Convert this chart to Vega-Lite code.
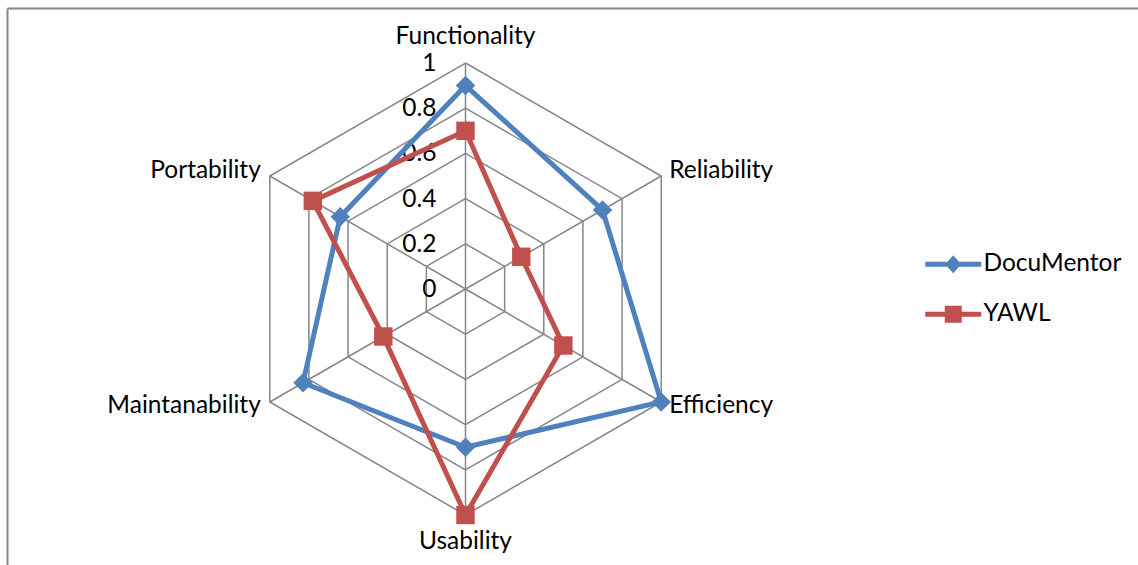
{
  "$schema": "https://vega.github.io/schema/vega-lite/v6.json",
  "width": 1131,
  "height": 557,
  "autosize": {"type": "none"},
  "padding": {"left": 7, "top": 8, "right": 0, "bottom": 0},
  "background": "white",
  "config": {"view": {"stroke": null}, "font": "Lato", "text": {"font": "Lato", "fontSize": 24.5, "color": "#000000"}},
  "datasets": {
    "axes": [
      {"axis": "Functionality", "k": 0},
      {"axis": "Reliability", "k": 1},
      {"axis": "Efficiency", "k": 2},
      {"axis": "Usability", "k": 3},
      {"axis": "Maintanability", "k": 4},
      {"axis": "Portability", "k": 5}
    ],
    "grid": [
      {"level": 0.2, "k": [0, 1, 2, 3, 4, 5]},
      {"level": 0.4, "k": [0, 1, 2, 3, 4, 5]},
      {"level": 0.6, "k": [0, 1, 2, 3, 4, 5]},
      {"level": 0.8, "k": [0, 1, 2, 3, 4, 5]},
      {"level": 1.0, "k": [0, 1, 2, 3, 4, 5]}
    ],
    "ticks": [
      {"v": 0, "label": "0"},
      {"v": 0.2, "label": "0.2"},
      {"v": 0.4, "label": "0.4"},
      {"v": 0.6, "label": "0.6"},
      {"v": 0.8, "label": "0.8"},
      {"v": 1.0, "label": "1"}
    ],
    "scores": [
      {"series": "DocuMentor", "axis": "Functionality", "k": 0, "value": 0.9},
      {"series": "DocuMentor", "axis": "Reliability", "k": 1, "value": 0.7},
      {"series": "DocuMentor", "axis": "Efficiency", "k": 2, "value": 1.0},
      {"series": "DocuMentor", "axis": "Usability", "k": 3, "value": 0.7},
      {"series": "DocuMentor", "axis": "Maintanability", "k": 4, "value": 0.83},
      {"series": "DocuMentor", "axis": "Portability", "k": 5, "value": 0.64},
      {"series": "YAWL", "axis": "Functionality", "k": 0, "value": 0.7},
      {"series": "YAWL", "axis": "Reliability", "k": 1, "value": 0.285},
      {"series": "YAWL", "axis": "Efficiency", "k": 2, "value": 0.5},
      {"series": "YAWL", "axis": "Usability", "k": 3, "value": 1.0},
      {"series": "YAWL", "axis": "Maintanability", "k": 4, "value": 0.42},
      {"series": "YAWL", "axis": "Portability", "k": 5, "value": 0.78}
    ]
  },
  "layer": [
    {
      "data": {"name": "grid"},
      "transform": [
        {"flatten": ["k"]},
        {"calculate": "datum.k * PI / 3", "as": "a"},
        {"calculate": "datum.level * sin(datum.a)", "as": "gx"},
        {"calculate": "datum.level * cos(datum.a)", "as": "gy"}
      ],
      "mark": {"type": "line", "interpolate": "linear-closed", "color": "#868686", "strokeWidth": 1.5},
      "encoding": {
        "x": {"field": "gx", "type": "quantitative",
              "scale": {"domain": [-2.0288, 2.9757], "nice": false, "zero": false},
              "axis": {"orient": "top", "domainColor": "#888888", "domainWidth": 2, "ticks": false, "labels": false, "grid": false, "title": null}},
        "y": {"field": "gy", "type": "quantitative",
              "scale": {"domain": [-1.2212, 1.2434], "nice": false, "zero": false},
              "axis": {"orient": "left", "domainColor": "#888888", "domainWidth": 2, "ticks": false, "labels": false, "grid": false, "title": null}},
        "detail": {"field": "level"},
        "order": {"field": "k"}
      }
    },
    {
      "data": {"name": "axes"},
      "transform": [
        {"calculate": "datum.k * PI / 3", "as": "a"},
        {"calculate": "sin(datum.a)", "as": "sx"},
        {"calculate": "cos(datum.a)", "as": "sy"}
      ],
      "layer": [
        {
          "mark": {"type": "rule", "color": "#868686", "strokeWidth": 1.5},
          "encoding": {
            "x": {"field": "sx", "type": "quantitative"},
            "y": {"field": "sy", "type": "quantitative"},
            "x2": {"datum": 0},
            "y2": {"datum": 0}
          }
        },
        {
          "transform": [{"filter": "datum.k == 0"}],
          "mark": {"type": "text", "align": "center", "baseline": "middle", "dy": -26},
          "encoding": {"x": {"field": "sx", "type": "quantitative"}, "y": {"field": "sy", "type": "quantitative"}, "text": {"field": "axis"}}
        },
        {
          "transform": [{"filter": "datum.k == 3"}],
          "mark": {"type": "text", "align": "center", "baseline": "middle", "dy": 27},
          "encoding": {"x": {"field": "sx", "type": "quantitative"}, "y": {"field": "sy", "type": "quantitative"}, "text": {"field": "axis"}}
        },
        {
          "transform": [{"filter": "datum.k == 1"}],
          "mark": {"type": "text", "align": "left", "baseline": "middle", "dx": 8, "dy": -5},
          "encoding": {"x": {"field": "sx", "type": "quantitative"}, "y": {"field": "sy", "type": "quantitative"}, "text": {"field": "axis"}}
        },
        {
          "transform": [{"filter": "datum.k == 2"}],
          "mark": {"type": "text", "align": "left", "baseline": "middle", "dx": 8, "dy": 4},
          "encoding": {"x": {"field": "sx", "type": "quantitative"}, "y": {"field": "sy", "type": "quantitative"}, "text": {"field": "axis"}}
        },
        {
          "transform": [{"filter": "datum.k == 4"}],
          "mark": {"type": "text", "align": "right", "baseline": "middle", "dx": -9, "dy": 4},
          "encoding": {"x": {"field": "sx", "type": "quantitative"}, "y": {"field": "sy", "type": "quantitative"}, "text": {"field": "axis"}}
        },
        {
          "transform": [{"filter": "datum.k == 5"}],
          "mark": {"type": "text", "align": "right", "baseline": "middle", "dx": -9, "dy": -5},
          "encoding": {"x": {"field": "sx", "type": "quantitative"}, "y": {"field": "sy", "type": "quantitative"}, "text": {"field": "axis"}}
        }
      ]
    },
    {
      "data": {"name": "ticks"},
      "mark": {"type": "text", "align": "right", "baseline": "middle", "dx": -29, "dy": 1},
      "encoding": {
        "x": {"datum": 0, "type": "quantitative"},
        "y": {"field": "v", "type": "quantitative"},
        "text": {"field": "label"}
      }
    },
    {
      "data": {"name": "scores"},
      "transform": [
        {"calculate": "datum.k * PI / 3", "as": "a"},
        {"calculate": "datum.value * sin(datum.a)", "as": "px"},
        {"calculate": "datum.value * cos(datum.a)", "as": "py"}
      ],
      "layer": [
        {
          "mark": {"type": "line", "interpolate": "linear-closed", "strokeWidth": 5},
          "encoding": {
            "x": {"field": "px", "type": "quantitative"},
            "y": {"field": "py", "type": "quantitative"},
            "order": {"field": "k"},
            "color": {"field": "series", "type": "nominal",
              "scale": {"domain": ["DocuMentor", "YAWL"], "range": ["#4F81BD", "#C0504D"]},
              "legend": {"orient": "none", "legendX": 934, "legendY": 244, "title": null, "padding": 0,
                "symbolSize": 400, "labelOffset": 18, "rowPadding": 25,
                "labelFont": "Lato", "labelFontSize": 24.5, "labelColor": "#000000",
                "encode": {"symbols": {"update": {
                  "shape": {"signal": "datum.value === 'DocuMentor' ? 'M-2.8,-0.24H2.8V0.24H-2.8Z M-0.8,0L0,-0.9L0.8,0L0,0.9Z' : 'M-2.8,-0.24H2.8V0.24H-2.8Z M-0.85,-0.85H0.85V0.85H-0.85Z'"},
                  "fill": {"signal": "datum.value === 'DocuMentor' ? '#4F81BD' : '#C0504D'"},
                  "fillOpacity": {"value": 1},
                  "opacity": {"value": 1},
                  "strokeWidth": {"value": 0}
                }}}}
            }
          }
        },
        {
          "transform": [{"filter": "datum.series === 'DocuMentor'"}],
          "mark": {"type": "point", "shape": "diamond", "filled": true, "size": 380, "opacity": 1, "strokeWidth": 0, "color": "#4F81BD"},
          "encoding": {
            "x": {"field": "px", "type": "quantitative"},
            "y": {"field": "py", "type": "quantitative"}
          }
        },
        {
          "transform": [{"filter": "datum.series === 'YAWL'"}],
          "mark": {"type": "point", "shape": "square", "filled": true, "size": 340, "opacity": 1, "strokeWidth": 0, "color": "#C0504D"},
          "encoding": {
            "x": {"field": "px", "type": "quantitative"},
            "y": {"field": "py", "type": "quantitative"}
          }
        }
      ]
    }
  ]
}
